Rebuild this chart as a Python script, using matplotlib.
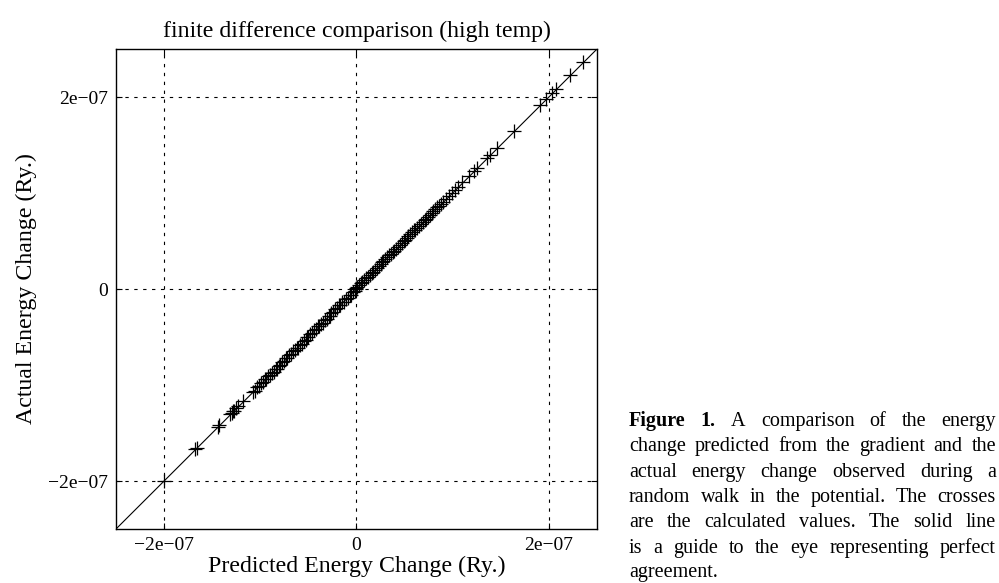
import numpy as np
import matplotlib
matplotlib.use('Agg')
import matplotlib.pyplot as plt

'''
finite difference check: predicted vs actual energy change
'''

# values in units of 1e-7 Ry
predicted = [-2.00, -1.68, -1.66, -1.44, -1.43, -1.31, -1.29, -1.28, -1.27, -1.25,
             -1.23, -1.18, -1.08, -1.06,
             -1.03, -1.01, -0.99, -0.97, -0.95, -0.94, -0.92, -0.90, -0.88, -0.86,
             -0.84, -0.83, -0.81, -0.79, -0.77, -0.75, -0.73, -0.72, -0.70, -0.68,
             -0.66, -0.64, -0.62, -0.61, -0.59, -0.57, -0.55, -0.53, -0.51, -0.50,
             -0.48, -0.46, -0.44, -0.42, -0.40, -0.39, -0.37, -0.35, -0.33, -0.31,
             -0.29, -0.28, -0.26, -0.24, -0.22, -0.20, -0.18, -0.17, -0.15, -0.13,
             -0.11, -0.09, -0.07, -0.06, -0.04, -0.02, -0.01, 0.00, 0.01, 0.03,
             0.05, 0.06, 0.08, 0.10, 0.12, 0.14, 0.16, 0.17, 0.19, 0.21,
             0.23, 0.25, 0.27, 0.28, 0.30, 0.32, 0.34, 0.36, 0.38, 0.39,
             0.41, 0.43, 0.45, 0.47, 0.49, 0.50, 0.52, 0.54, 0.56, 0.58,
             0.60, 0.61, 0.63, 0.65, 0.67, 0.69, 0.71, 0.72, 0.74, 0.76,
             0.78, 0.80, 0.82, 0.84, 0.86, 0.88, 0.90, 0.93, 0.96, 0.99,
             1.02, 1.05,
             1.10, 1.17, 1.22, 1.25, 1.36, 1.39, 1.46, 1.64, 1.91, 1.97,
             2.03, 2.07, 2.22, 2.35]

actual = [-2.00, -1.67, -1.66, -1.44, -1.42, -1.30, -1.29, -1.27, -1.27, -1.24,
          -1.22, -1.17, -1.07, -1.06,
          -1.02, -1.01, -0.98, -0.97, -0.94, -0.94, -0.91, -0.90, -0.87, -0.86,
          -0.83, -0.83, -0.80, -0.79, -0.76, -0.75, -0.72, -0.72, -0.69, -0.68,
          -0.65, -0.64, -0.61, -0.61, -0.58, -0.57, -0.54, -0.53, -0.50, -0.50,
          -0.47, -0.46, -0.43, -0.42, -0.39, -0.39, -0.36, -0.35, -0.32, -0.31,
          -0.28, -0.28, -0.25, -0.24, -0.21, -0.20, -0.17, -0.17, -0.14, -0.13,
          -0.10, -0.09, -0.06, -0.06, -0.03, -0.02, 0.00, 0.01, 0.02, 0.04,
          0.06, 0.07, 0.09, 0.11, 0.13, 0.15, 0.17, 0.18, 0.20, 0.22,
          0.24, 0.26, 0.28, 0.29, 0.31, 0.33, 0.35, 0.37, 0.39, 0.40,
          0.42, 0.44, 0.46, 0.48, 0.50, 0.51, 0.53, 0.55, 0.57, 0.59,
          0.61, 0.62, 0.64, 0.66, 0.68, 0.70, 0.72, 0.73, 0.75, 0.77,
          0.79, 0.81, 0.83, 0.85, 0.87, 0.89, 0.91, 0.94, 0.97, 1.00,
          1.03, 1.06,
          1.11, 1.18, 1.23, 1.26, 1.37, 1.40, 1.47, 1.65, 1.92, 1.98,
          2.04, 2.08, 2.23, 2.36]

scale = 1e-7
lim = 2.5
ticks = [-2, 0, 2]
tick_labels = ['\u22122e\u221207', '0', '2e\u221207']

caption = [
    'Figure 1.  A comparison of the energy',
    'change predicted from the gradient and the',
    'actual energy change observed during a',
    'random walk in the potential.  The crosses',
    'are the calculated values.  The solid line',
    'is a guide to the eye representing perfect',
    'agreement.',
]

plt.rcParams['font.family'] = ['Liberation Serif', 'DejaVu Serif']

fig = plt.figure(figsize=(9.99, 5.83), dpi=100)
ax = fig.add_axes([0.1161, 0.0926, 0.4815, 0.8233])

x = np.array(predicted) * scale
y = np.array(actual) * scale

ax.plot([-lim * scale, lim * scale], [-lim * scale, lim * scale],
        color='black', linewidth=0.8, zorder=2)
ax.plot(x, y, linestyle='none', marker='+', markersize=10,
        markeredgewidth=0.9, color='black', zorder=3)

ax.set_xlim(-lim * scale, lim * scale)
ax.set_ylim(-lim * scale, lim * scale)
ax.set_xticks([t * scale for t in ticks])
ax.set_xticklabels(tick_labels)
ax.set_yticks([t * scale for t in ticks])
ax.set_yticklabels(tick_labels)
ax.tick_params(direction='in', length=4, width=0.8, top=True, right=True,
               labelsize=14, pad=6)
ax.grid(True, color='black', linestyle=(0, (3, 5)), linewidth=0.8)
for sp in ax.spines.values():
    sp.set_linewidth(1.0)

ax.set_title('finite difference comparison (high temp)', fontsize=17.2, pad=9)
ax.set_xlabel('Predicted Energy Change (Ry.)', fontsize=17.2, labelpad=1)
ax.set_ylabel('Actual Energy Change (Ry.)', fontsize=17.2, labelpad=8)

# justified caption on the right
fig.canvas.draw()
renderer = fig.canvas.get_renderer()
W = fig.bbox.width
x0, x1 = 629 / W, 996 / W
baselines = [426.0, 451.3, 476.6, 502.0, 527.3, 552.6, 577.5]
cap_size = 14.5
for i, line in enumerate(caption):
    words = line.split()
    yy = 1 - baselines[i] / fig.bbox.height
    objs = []
    for j, w in enumerate(words):
        weight = 'bold' if (i == 0 and j < 2) else 'normal'
        t = fig.text(0, yy, w, fontsize=cap_size, fontweight=weight,
                     va='baseline', ha='left')
        objs.append(t)
    widths = [t.get_window_extent(renderer).width / W for t in objs]
    if i == len(caption) - 1:
        gap = 4.0 / W
    else:
        gap = (x1 - x0 - sum(widths)) / (len(words) - 1)
    xx = x0
    for t, wd in zip(objs, widths):
        t.set_x(xx)
        xx += wd + gap

fig.savefig('out.png', dpi=100)
